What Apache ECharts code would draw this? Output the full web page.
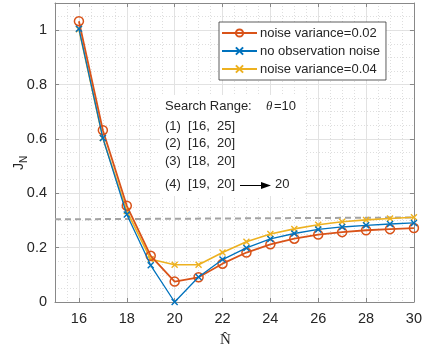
<!DOCTYPE html>
<html>
<head>
<meta charset="utf-8">
<script src="https://cdn.jsdelivr.net/npm/echarts@6/dist/echarts.min.js"></script>
<style>
html,body{margin:0;padding:0;background:#fff;}
#chart{width:425px;height:354px;}
</style>
</head>
<body>
<div id="chart"></div>
<script>
const xValues = [16,17,18,19,20,21,22,23,24,25,26,27,28,29,30];
const noise002 = [1.033,0.632,0.354,0.170,0.075,0.091,0.141,0.182,0.212,0.233,0.248,0.257,0.264,0.268,0.272];
const noNoise  = [1.005,0.603,0.322,0.135,0.000,0.092,0.156,0.199,0.232,0.252,0.267,0.276,0.282,0.287,0.291];
const noise004 = [1.003,0.603,0.335,0.157,0.137,0.137,0.182,0.222,0.250,0.269,0.284,0.295,0.302,0.307,0.312];
const dashedX = [15,30];
const dashedY = [0.304,0.311];
const seriesNames = ['noise variance=0.02','no observation noise','noise variance=0.04'];
const annotationLines = ['(1)  [16,  25]','(2)  [16,  20]','(3)  [18,  20]','(4)  [19,  20]'];

const ORANGE = '#D95319', BLUE = '#0072BD', YELLOW = '#EDB120';
const TXT = '#262626';
const AX = '#888888';
const XPATH = 'path://M0,0L10,10M0,10L10,0';
const pairs = (xs, ys) => xs.map((x,i)=>[x, ys[i]]);

const chart = echarts.init(document.getElementById('chart'), null, {renderer:'canvas'});

const gridMajor = {show:true, lineStyle:{color:'#e2e2e2', width:1}};
const gridMinor = {show:true, lineStyle:{color:'#dedede', width:1, type:[1,2]}};
const tickStyle = {show:true, inside:true, length:4, lineStyle:{color:AX, width:1}};
const labelStyle = {color:TXT, fontSize:14.5, fontFamily:'Liberation Sans, Arial, sans-serif'};

const annoGraphics = [];
annoGraphics.push({type:'rect', shape:{x:160, y:95, width:145, height:101}, style:{fill:'#fff'}, z:5});
annoGraphics.push({type:'text', left:165, top:100, z:6, style:{text:'Search Range:', fill:TXT, font:'13px "Liberation Sans", Arial, sans-serif'}});
annoGraphics.push({type:'text', left:266, top:100, z:6, style:{text:'\u03B8', fill:TXT, font:'italic 13px "Liberation Serif", "Times New Roman", serif'}});
annoGraphics.push({type:'text', left:274, top:100, z:6, style:{text:'=10', fill:TXT, font:'13px "Liberation Sans", Arial, sans-serif'}});
const annoTops = [120, 137, 155, 178];
annotationLines.forEach((t,i)=>{
  annoGraphics.push({type:'text', left:165, top:annoTops[i], z:6, style:{text:t, fill:TXT, font:'13px "Liberation Sans", Arial, sans-serif'}});
});
annoGraphics.push({type:'line', z:6, shape:{x1:240, y1:185.5, x2:262, y2:185.5}, style:{stroke:'#000', lineWidth:1}});
annoGraphics.push({type:'polygon', z:6, shape:{points:[[271,185.5],[261,182],[261,189]]}, style:{fill:'#000'}});
annoGraphics.push({type:'text', left:275, top:178, z:6, style:{text:'20', fill:TXT, font:'13px "Liberation Sans", Arial, sans-serif'}});
// y-axis label J_N (rotated)
annoGraphics.push({type:'group', x:19, y:170, rotation:Math.PI/2, children:[
  {type:'text', x:0, y:0, style:{text:'J', fill:TXT, font:'14px "Liberation Sans", Arial, sans-serif', textAlign:'left', textVerticalAlign:'middle'}},
  {type:'text', x:7, y:5, style:{text:'N', fill:TXT, font:'10px "Liberation Sans", Arial, sans-serif', textAlign:'left', textVerticalAlign:'middle'}}
]});
// x-axis label N-hat
annoGraphics.push({type:'text', left:220, top:333, style:{text:'N\u0302', fill:TXT, font:'15px "Liberation Serif", "Times New Roman", serif'}});

const option = {
  animation:false,
  backgroundColor:'#fff',
  grid:{left:55, right:10, top:3, bottom:52, containLabel:false},
  legend:{
    data:seriesNames,
    orient:'vertical',
    left:219, top:22,
    padding:[3,6,3,2],
    itemGap:2,
    itemWidth:35, itemHeight:9,
    backgroundColor:'#fff',
    borderColor:'#333', borderWidth:0.8, borderRadius:0,
    textStyle:{color:TXT, fontSize:13, fontFamily:'Liberation Sans, Arial, sans-serif', lineHeight:16, padding:[0,0,0,-2]}
  },
  xAxis:[{
    type:'value', min:15, max:30, splitNumber:7, position:'bottom',
    axisLine:{show:true, onZero:false, lineStyle:{color:AX, width:1}},
    axisTick:tickStyle,
    axisLabel:Object.assign({margin:9, showMinLabel:false, formatter:v=> (v===15?'':String(v))}, labelStyle),
    splitLine:gridMajor,
    minorTick:{show:false, splitNumber:4},
    minorSplitLine:gridMinor
  },{
    type:'value', min:15, max:30, splitNumber:7, position:'top',
    axisLine:{show:true, onZero:false, lineStyle:{color:AX, width:1}},
    axisTick:tickStyle, axisLabel:{show:false}, splitLine:{show:false}
  }],
  yAxis:[{
    type:'value', min:0, max:1.1, interval:0.2, position:'left',
    axisLine:{show:true, onZero:false, lineStyle:{color:AX, width:1}},
    axisTick:tickStyle,
    axisLabel:Object.assign({margin:8, showMaxLabel:false, formatter:v=> (Math.abs(v-1.1)<1e-9?'':String(+v.toFixed(2)))}, labelStyle),
    splitLine:gridMajor,
    minorTick:{show:false, splitNumber:4},
    minorSplitLine:gridMinor
  },{
    type:'value', min:0, max:1.1, interval:0.2, position:'right',
    axisLine:{show:true, onZero:false, lineStyle:{color:AX, width:1}},
    axisTick:tickStyle, axisLabel:{show:false}, splitLine:{show:false}
  }],
  series:[
    {name:'dashed', type:'line', data:pairs(dashedX, dashedY), symbol:'none', silent:true,
     lineStyle:{color:'#a3a3a3', width:2, type:[6,4]}, z:1},
    {name:seriesNames[0], type:'line', data:pairs(xValues, noise002), color:ORANGE,
     symbol:'circle', symbolSize:9, showSymbol:true,
     itemStyle:{color:'rgba(255,255,255,0)', borderColor:ORANGE, borderWidth:1.5},
     lineStyle:{color:ORANGE, width:1.8}, z:3},
    {name:seriesNames[1], type:'line', data:pairs(xValues, noNoise), color:BLUE,
     symbol:XPATH, symbolSize:6, showSymbol:true,
     itemStyle:{color:BLUE, borderColor:BLUE, borderWidth:1.4},
     lineStyle:{color:BLUE, width:1.3}, z:4},
    {name:seriesNames[2], type:'line', data:pairs(xValues, noise004), color:YELLOW,
     symbol:XPATH, symbolSize:6, showSymbol:true,
     itemStyle:{color:YELLOW, borderColor:YELLOW, borderWidth:1.4},
     lineStyle:{color:YELLOW, width:1.6}, z:2}
  ],
  graphic:annoGraphics
};
chart.setOption(option);
</script>
</body>
</html>
